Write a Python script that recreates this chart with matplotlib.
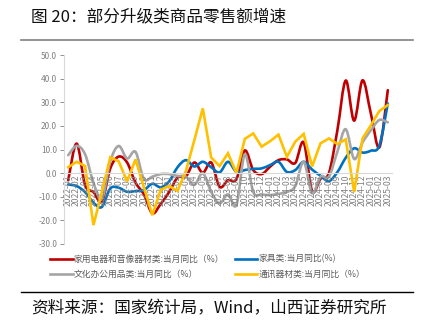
import numpy as np
import matplotlib
matplotlib.use("Agg")
import matplotlib.pyplot as plt
from matplotlib.path import Path
from matplotlib.patches import PathPatch
from matplotlib.lines import Line2D

plt.rcParams['font.family'] = ['Noto Sans CJK SC', 'DejaVu Sans']

# 2022-01 .. 2025-03
months = [f"{y}-{m:02d}" for y in (2022, 2023, 2024) for m in range(1, 13)] + \
         ["2025-01", "2025-02", "2025-03"]

appliance = [-3, 12.5, -5, -8, -12, 2, 7, 4.5, -4, -9, -17, -13, -8,
             -1.9, -1.4, 4.5, 0.1, 4.5, -5.8, -3, -2.5, 9.6, 1.3, -0.4,
             2.7, 5.5, 5.8, 4.3, 13, -7.6, -2.4, 0, 18, 39.2, 22.2, 39.3,
             25, 10.9, 35.1]
furniture = [-4.8, -5.5, -8, -12.5, -14.3, -6.5, -6.2, -7.9, -7.6, -7.2, -4.5, -6, -3.5,
             2.5, 5.5, 2.8, 4.8, 2.5, 0.3, 4.8, 0.5, 1.3, 1.8, 2.0,
             3.4, 4.8, 0.5, 1.3, 4.8, 1.5, -1.1, -3.4, 0.4, 6.5, 10.5, 8.7,
             9.5, 11.7, 29.5]
office = [7.6, 11.5, 8, -4, -11, 5, 11.5, 6.2, 9, -2.5, -1.5, -0.4, -0.4,
          -1.2, -1.5, -5, 0, -8, -12.8, -9, -13.5, 8, -8, -9,
          -9.3, -8.8, -8, -5.5, 4.8, -8.5, -1.5, -1.5, 9, 18.6, 6, 13,
          18.2, 22.5, 21.5]
telecom = [2.5, 4.8, 3, -22, -8, 6.7, 5, -3.5, 5.8, -6, -17.8, -7, -5.5,
           -7.5, 1, 14, 27.4, 6.6, 3, 8.4, 0, 14.5, 16.8, 11.2,
           13.5, 16.3, 6.9, 13.3, 16.6, 2.8, 12.6, 14.7, 12.3, 14.3, -8, 14.7,
           20.3, 26.3, 28.8]

labels = ["家用电器和音像器材类:当月同比（%）", "家具类:当月同比(%)",
          "文化办公用品类:当月同比（%）", "通讯器材类:当月同比（%）"]
colors = ["#C00000", "#0070C0", "#A5A5A5", "#FFC000"]


def smooth_path(x, y):
    # excel-like smoothed line: catmull-rom converted to cubic bezier
    pts = np.column_stack([x, y]).astype(float)
    n = len(pts)
    verts = [pts[0]]
    codes = [Path.MOVETO]
    for i in range(n - 1):
        p0 = pts[max(i - 1, 0)]
        p1 = pts[i]
        p2 = pts[i + 1]
        p3 = pts[min(i + 2, n - 1)]
        verts += [p1 + (p2 - p0) / 6, p2 - (p3 - p1) / 6, p2]
        codes += [Path.CURVE4] * 3
    return Path(verts, codes)


fig = plt.figure(figsize=(4.24, 3.23), dpi=100)
ax = fig.add_axes([0.151, 0.2446, 0.7735, 0.5851])

x = np.arange(len(months))
lw = 1.9
for vals, c, smooth in [(appliance, colors[0], True), (furniture, colors[1], True),
                        (office, colors[2], True), (telecom, colors[3], False)]:
    if smooth:
        ax.add_patch(PathPatch(smooth_path(x, vals), fc='none', ec=c, lw=lw,
                               capstyle='round', joinstyle='round'))
    else:
        ax.plot(x, vals, color=c, lw=lw, solid_joinstyle='miter')

ax.set_xlim(-0.5, len(months) - 0.5)
ax.set_ylim(-30, 50)
ax.set_yticks(np.arange(-30, 51, 10))
ax.set_yticklabels([f"{v:.1f}" for v in np.arange(-30, 51, 10)])
ax.set_xticks(x)
ax.set_xticklabels(months)

tick_c = "#808080"
ax.tick_params(axis='y', labelsize=6, colors=tick_c, length=3, width=0.6, pad=2)
ax.tick_params(axis='x', labelsize=6.2, colors=tick_c, length=0, pad=1,
               labelrotation=90)
for t in ax.get_xticklabels():
    t.set_rotation(90)
    t.set_ha('center')
    t.set_va('top')
for s in ['top', 'right']:
    ax.spines[s].set_visible(False)
ax.spines['left'].set_color('#D9D9D9')
ax.spines['bottom'].set_color('#D9D9D9')
ax.spines['bottom'].set_position(('data', 0))
ax.spines['left'].set_linewidth(0.8)
ax.spines['bottom'].set_linewidth(0.8)

handles = [Line2D([], [], color=c, lw=lw) for c in colors]
order = [0, 2, 1, 3]
fig.legend([handles[i] for i in order], [labels[i] for i in order],
           loc='upper left', bbox_to_anchor=(0.118, 0.212), ncol=2,
           frameon=False, fontsize=6.3, handlelength=2.6, handletextpad=0.1,
           columnspacing=1.2, labelspacing=0.75, labelcolor="#595959",
           borderaxespad=0, borderpad=0)

# header and footer
fig.text(0.073, 0.947, "图 20：部分升级类商品零售额增速", fontsize=12,
         ha='left', va='center', color='#111111')
fig.add_artist(Line2D([0.05, 0.975], [0.876, 0.876], color='#808080', lw=1.2))
fig.add_artist(Line2D([0.05, 0.975], [0.096, 0.096], color='#000000', lw=1.0))
fig.text(0.073, 0.043, "资料来源：国家统计局，Wind，山西证券研究所", fontsize=12,
         ha='left', va='center', color='#111111')

fig.savefig("out.png", dpi=100)
